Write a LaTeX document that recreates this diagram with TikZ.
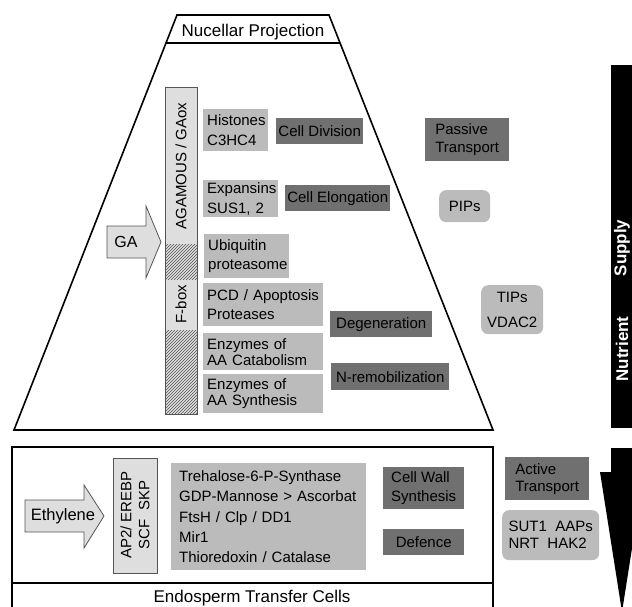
\documentclass[tikz,border=0pt]{standalone}
\usepackage{fontspec}
\setmainfont{Liberation Sans}
\usetikzlibrary{patterns,positioning}

\definecolor{genegray}{RGB}{187,187,187}
\definecolor{procgray}{RGB}{112,112,112}
\definecolor{barfill}{RGB}{222,222,222}
\definecolor{barline}{RGB}{85,85,85}

\begin{document}
\begin{tikzpicture}[x=1pt, y=-1pt,
      every node/.style={inner sep=0pt, font=\fontsize{15}{20}\selectfont},
      gene/.style={fill=genegray, anchor=north west, align=left, inner xsep=4pt},
      proc/.style={fill=procgray, anchor=north west, align=left},
      chan/.style={fill=genegray, anchor=north west, align=left, rounded corners=7pt},
      bar/.style={draw=barline, fill=barfill, line width=0.8pt},
      hatch/.style={pattern=north east lines, pattern color=barline},
      wall/.style={line width=1.6pt, line join=miter}]
  \path[use as bounding box, clip] (0,0) rectangle (632,607);

  % nucellar projection
  \draw[wall] (177,15) -- (329,15) -- (493,430) -- (14,430) -- cycle;
  \draw[wall] (166,43) -- (340,43);
  \node[anchor=base, font=\fontsize{17}{20}\selectfont] (nuc) at (253,37) {Nucellar Projection};

  % regulators
  \draw[bar] (165,87) rectangle (197,414);
  \fill[hatch] (165,244) rectangle (197,279);
  \fill[hatch] (165,330) rectangle (197,414);
  \draw[barline, line width=0.8pt] (165,87) rectangle (197,414);
  \node[rotate=90] (agam) at (181,166) {AGAMOUS / GAox};
  \node[rotate=90] (fbox) at (181,304) {F-box};

  \draw[bar] (107,226) -- (146,226) -- (146,206) -- (161,242) -- (146,278) -- (146,258) -- (107,258) -- cycle;
  \node[font=\fontsize{16}{20}\selectfont] (ga) at (126,242) {GA};

  % genes
  \node[gene, text width=57pt, minimum height=42pt] (hist) at (203,109) {Histones\\C3HC4};
  \node[gene, text width=67pt, minimum height=37pt] (expa) at (203,180) {Expansins\\SUS1, 2};
  \node[gene, text width=77pt, minimum height=44pt, font=\fontsize{15}{18.5}\selectfont] (ubiq) at (204,234) {Ubiquitin\\proteasome};
  \node[gene, text width=112pt, minimum height=43pt, font=\fontsize{15}{19}\selectfont] (pcd) at (203,283) {PCD / Apoptosis\\Proteases};
  \node[gene, text width=112pt, minimum height=37pt, font=\fontsize{15}{16}\selectfont] (cata) at (203,333) {Enzymes of\\AA Catabolism};
  \node[gene, text width=112pt, minimum height=39pt, font=\fontsize{15}{15.5}\selectfont] (synt) at (203,374) {Enzymes of\\AA Synthesis};

  % processes
  \node[proc, minimum width=87pt, minimum height=26pt] (div) at (276,118) {Cell Division};
  \node[proc, minimum width=105pt, minimum height=26pt] (elong) at (285,185) {Cell Elongation};
  \node[proc, minimum width=102pt, minimum height=26pt] (degen) at (330,311) {Degeneration};
  \node[proc, minimum width=118pt, minimum height=27pt] (nremob) at (331,363) {N-remobilization};
  \node[proc, minimum width=84pt, minimum height=43pt, font=\fontsize{15}{18}\selectfont] (passive) at (425,118) {Passive\\Transport};

  % channels
  \node[chan, minimum width=51pt, minimum height=32pt] (pips) at (439,190) {PIPs};
  \node[chan, minimum width=62pt, minimum height=49pt, align=center, font=\fontsize{15}{25}\selectfont] (tips) at (481,285) {TIPs\\VDAC2};

  % endosperm transfer cells
  \draw[wall] (12,612) -- (12,447) -- (493,447) -- (493,612);
  \draw[wall] (12,583) -- (493,583);
  \node[anchor=base, font=\fontsize{17}{20}\selectfont] (etc) at (252,602) {Endosperm Transfer Cells};

  \draw[bar] (25,500) -- (84,500) -- (84,485) -- (104,516) -- (84,548) -- (84,532) -- (25,532) -- cycle;
  \node[font=\fontsize{16.5}{20}\selectfont] (eth) at (63,516) {Ethylene};
  \draw[bar] (113,458) rectangle (157,573);
  \node[rotate=90, align=center, font=\fontsize{15}{18}\selectfont] (ap2) at (135,515) {AP2/ EREBP\\SCF\ \ SKP};

  \node[gene, inner xsep=8pt, text width=179pt, minimum height=107pt, font=\fontsize{15}{20.3}\selectfont] (etcg) at (171,463)
    {Trehalose-6-P-Synthase\\GDP-Mannose > Ascorbat\\FtsH / Clp / DD1\\Mir1\\Thioredoxin / Catalase};
  \node[proc, minimum width=81pt, minimum height=42pt, font=\fontsize{15}{19}\selectfont] (cwall) at (383,467) {Cell Wall\\Synthesis};
  \node[proc, minimum width=81pt, minimum height=26pt] (defence) at (383,529) {Defence};
  \node[proc, minimum width=84pt, minimum height=43pt, font=\fontsize{15}{17}\selectfont] (active) at (505,457) {Active\\Transport};
  \node[chan, minimum width=97pt, minimum height=50pt, font=\fontsize{15}{17}\selectfont] (sut) at (502,510) {SUT1\ \ AAPs\\NRT\ \ HAK2};

  % nutrient supply
  \fill (611,65) rectangle (640,428);
  \fill (611,448) -- (633,448) -- (633,472) -- (644,472) -- (622,612) -- (600,472) -- (611,472) -- cycle;
  \node[rotate=90, text=white, font=\bfseries\fontsize{17}{20}\selectfont] (supply) at (622,248) {Supply};
  \node[rotate=90, text=white, font=\bfseries\fontsize{17}{20}\selectfont] (nutr) at (622,349) {Nutrient};
\end{tikzpicture}
\end{document}
